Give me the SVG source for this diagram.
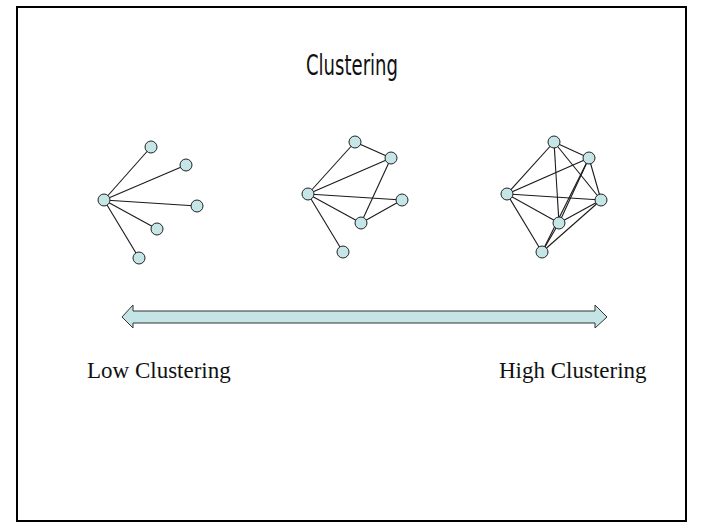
<svg xmlns="http://www.w3.org/2000/svg" width="704" height="528" viewBox="0 0 704 528">
<style>
.edge{stroke:#1a1a1a;stroke-width:1.1;fill:none}
.node{fill:#c5e5e7;stroke:#222;stroke-width:1}
.lbl{font-family:"Liberation Serif","Times New Roman",serif;font-size:23px;fill:#111}
.title{font-family:"DejaVu Sans","Noto Sans",sans-serif;font-size:29px;fill:#111}
</style>
<rect x="0" y="0" width="704" height="528" fill="#fff"/>
<rect x="17" y="7" width="669" height="514" fill="none" stroke="#000" stroke-width="2"/>
<text class="title" x="352" y="75" text-anchor="middle" textLength="92" lengthAdjust="spacingAndGlyphs">Clustering</text>
<g id="connectors">
<line class="edge" x1="104" y1="200" x2="151" y2="147"/>
<line class="edge" x1="104" y1="200" x2="186" y2="165"/>
<line class="edge" x1="104" y1="200" x2="197" y2="206"/>
<line class="edge" x1="104" y1="200" x2="157" y2="229"/>
<line class="edge" x1="104" y1="200" x2="139" y2="258"/>
<line class="edge" x1="308" y1="194" x2="355" y2="142"/>
<line class="edge" x1="355" y1="142" x2="391" y2="158"/>
<line class="edge" x1="308" y1="194" x2="391" y2="158"/>
<line class="edge" x1="308" y1="194" x2="402" y2="200"/>
<line class="edge" x1="308" y1="194" x2="361" y2="223"/>
<line class="edge" x1="308" y1="194" x2="343" y2="252"/>
<line class="edge" x1="391" y1="158" x2="361" y2="223"/>
<line class="edge" x1="361" y1="223" x2="402" y2="200"/>
<line class="edge" x1="507" y1="194" x2="554" y2="142"/>
<line class="edge" x1="507" y1="194" x2="589" y2="158"/>
<line class="edge" x1="507" y1="194" x2="601" y2="200"/>
<line class="edge" x1="507" y1="194" x2="559" y2="223"/>
<line class="edge" x1="507" y1="194" x2="542" y2="252"/>
<line class="edge" x1="554" y1="142" x2="589" y2="158"/>
<line class="edge" x1="554" y1="142" x2="559" y2="223"/>
<line class="edge" x1="554" y1="142" x2="601" y2="200"/>
<line class="edge" x1="589" y1="158" x2="601" y2="200"/>
<line class="edge" x1="589" y1="158" x2="559" y2="223"/>
<line class="edge" x1="589" y1="158" x2="542" y2="252"/>
<line class="edge" x1="559" y1="223" x2="601" y2="200"/>
<line class="edge" x1="559" y1="223" x2="542" y2="252"/>
<line class="edge" x1="542" y1="252" x2="601" y2="200"/>
</g>
<g id="left-graph">
<circle class="node" cx="104" cy="200" r="6"/>
<circle class="node" cx="151" cy="147" r="6"/>
<circle class="node" cx="186" cy="165" r="6"/>
<circle class="node" cx="197" cy="206" r="6"/>
<circle class="node" cx="157" cy="229" r="6"/>
<circle class="node" cx="139" cy="258" r="6"/>
</g>
<g id="middle-graph">
<circle class="node" cx="308" cy="194" r="6"/>
<circle class="node" cx="355" cy="142" r="6"/>
<circle class="node" cx="391" cy="158" r="6"/>
<circle class="node" cx="402" cy="200" r="6"/>
<circle class="node" cx="361" cy="223" r="6"/>
<circle class="node" cx="343" cy="252" r="6"/>
</g>
<g id="right-graph">
<circle class="node" cx="507" cy="194" r="6"/>
<circle class="node" cx="554" cy="142" r="6"/>
<circle class="node" cx="589" cy="158" r="6"/>
<circle class="node" cx="601" cy="200" r="6"/>
<circle class="node" cx="559" cy="223" r="6"/>
<circle class="node" cx="542" cy="252" r="6"/>
</g>
<g id="arrow">
<path d="M122,317 L133,305 L133,311 L595,311 L595,305 L607,317 L595,328 L595,323 L133,323 L133,328 Z" fill="#c4e4e6" stroke="#333" stroke-width="1"/>
</g>
<g id="labels">
<text class="lbl" x="87" y="378">Low Clustering</text>
<text class="lbl" x="499" y="378">High Clustering</text>
</g>
</svg>
